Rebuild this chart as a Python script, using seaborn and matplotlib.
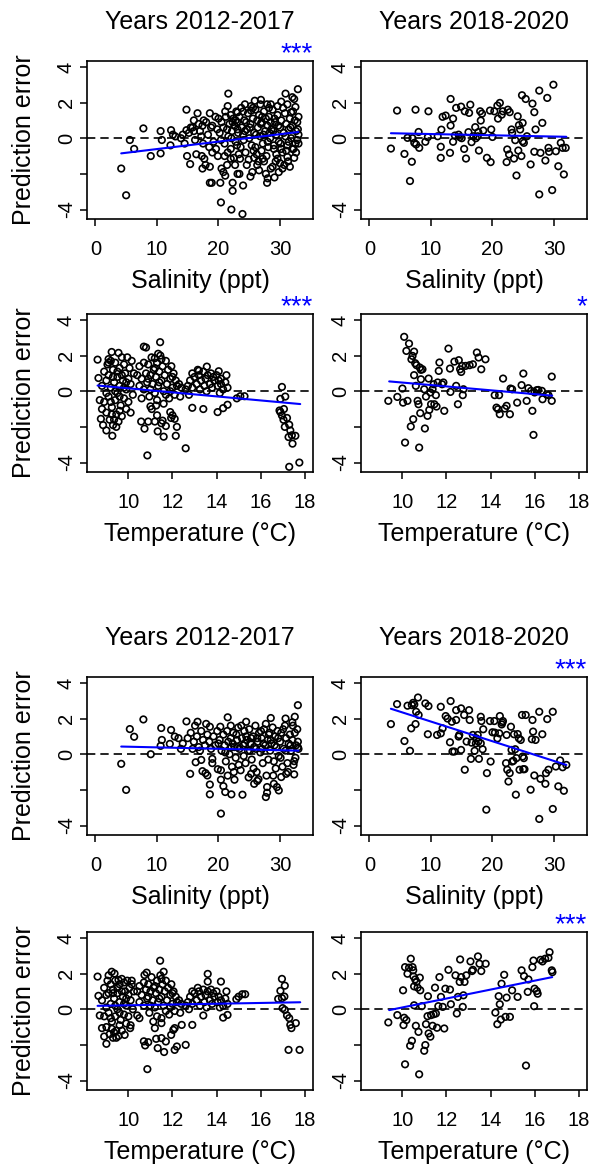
import numpy as np
import seaborn as sns
import matplotlib.pyplot as plt

sns.set_style("white")
plt.rcParams["font.family"] = ["Liberation Sans", "DejaVu Sans"]
plt.rcParams["text.color"] = "black"
plt.rcParams["axes.labelcolor"] = "black"
plt.rcParams["xtick.color"] = "black"
plt.rcParams["ytick.color"] = "black"

# ---- data: (x, prediction error) ----
# model A, 2012-2017, vs salinity
sal_early_a = [
    (4.2, -1.7), (5.0, -3.2), (5.6, -0.1), (6.3, -0.6), (7.8, 0.55), (9.0, -1.0), (10.6, 0.4),
    (10.6, -0.85), (10.8, -0.1), (12.3, 0.45), (12.2, -0.4), (13.0, 0.1), (13.9, 0.0), (12.6, 0.2),
    (14.8, 1.6), (16.6, 1.4), (18.6, 1.4), (17.6, 1.0), (17.4, 0.7), (14.8, 0.45), (14.9, -1.0),
    (15.4, -1.45), (15.5, 0.6), (16.0, 0.4), (16.4, -0.9), (17.3, -1.0), (17.7, -1.15), (17.9, -1.5),
    (18.6, -1.6), (17.4, -1.7), (18.6, -2.5), (18.9, -2.5), (19.0, -0.8), (19.9, -1.0), (20.3, -2.5),
    (20.4, -3.6), (20.5, -1.7), (20.8, -1.9), (21.1, -2.1), (21.4, -1.5), (21.6, 2.5), (21.5, 1.8),
    (22.0, -1.15), (22.1, -4.0), (22.3, -2.95), (22.3, -2.5), (22.7, -1.5), (23.1, -2.0), (23.4, -2.0),
    (24.0, -2.65), (23.9, -4.25), (23.5, -1.15), (23.1, 1.45), (22.8, 1.0), (24.3, 1.9), (25.3, 1.55),
    (25.9, 2.1), (26.9, 2.15), (27.9, 1.9), (28.5, 1.9), (30.2, 2.05), (30.9, 2.5), (32.3, 2.2),
    (32.9, 2.75), (32.5, 1.75), (31.8, 1.45), (25.2, -2.15), (25.5, -1.9), (26.3, -1.5), (27.2, -1.15),
    (27.9, -2.5), (28.0, -2.25), (27.7, -2.0), (28.5, -1.7), (29.1, -2.2), (29.6, -1.15), (29.8, -1.9),
    (30.4, -1.7), (30.7, -1.5), (31.2, -1.05), (32.3, -1.1), (32.0, -0.6), (32.8, -0.1),
    (20.2, 0.3), (20.5, 0.9), (20.8, 0.6), (21.0, -0.3), (21.2, 1.2), (21.4, 0.5), (21.6, 0.1),
    (21.8, 0.8), (22.0, -0.6), (22.2, 0.4), (22.4, 1.1), (22.6, 0.7), (22.8, -0.2), (23.0, 0.9),
    (23.2, 0.3), (23.4, 1.2), (23.6, -0.5), (23.8, 0.6), (24.0, 0.2), (24.2, 1.0), (24.4, -0.8),
    (24.6, 0.5), (24.8, 1.4), (25.0, 0.0), (25.2, 0.8), (25.4, -0.4), (25.6, 1.1), (25.8, 0.3),
    (26.0, 1.6), (26.2, -0.9), (26.4, 0.6), (26.6, 1.3), (26.8, 0.1), (27.0, 0.9), (27.2, -0.3),
    (27.4, 1.5), (27.6, 0.4), (27.8, -1.0), (28.0, 0.7), (28.2, 1.2), (28.4, 0.0), (28.6, 0.5),
    (28.8, 1.6), (29.0, -0.6), (29.2, 0.9), (29.4, 0.2), (29.6, 1.3), (29.8, -0.2), (30.0, 0.6),
    (30.2, 1.0), (30.4, -0.8), (30.6, 0.3), (30.8, 1.4), (31.0, 0.8), (31.2, -0.4), (31.4, 0.5),
    (31.6, 1.1), (31.8, 0.0), (32.0, 0.7), (32.2, -0.6), (32.4, 1.0), (32.6, 0.4), (32.8, 0.9),
    (33.0, 0.2), (20.4, -0.1), (21.1, 1.5), (21.5, -0.8), (22.1, 0.0), (22.5, -1.1), (22.9, 1.5),
    (23.3, -0.9), (23.7, 1.7), (24.1, -0.1), (24.5, 0.9), (24.9, -1.2), (25.3, 1.8), (25.7, -0.7),
    (26.1, 0.2), (26.5, -1.3), (26.9, 0.8), (27.3, 0.2), (27.7, 1.1), (28.1, -0.5), (28.5, 0.9),
    (28.9, 0.4), (29.3, -1.3), (29.7, 0.7), (30.1, -0.3), (30.5, 1.7), (30.9, 0.1), (31.3, -1.3),
    (31.7, 0.6), (32.1, 1.5), (32.5, -0.3), (32.9, 0.5), (26.3, 1.0), (27.1, 1.2), (28.3, 0.3),
    (29.1, 1.1), (24.3, 0.4), (25.1, 0.6), (23.1, 0.5), (22.3, 0.9), (15.2, 0.3), (15.8, 0.6),
    (16.2, -0.1), (16.8, 0.8), (17.0, 0.4), (17.5, -0.3), (18.0, 0.9), (18.3, 0.2), (18.8, 0.6),
    (19.2, -0.2), (19.5, 1.2), (19.8, 0.5), (14.2, 0.2), (14.5, -0.3), (16.0, 1.0), (17.2, 0.1),
    (18.5, -0.5), (19.0, 0.7), (19.6, -0.6), (20.0, 1.1), (24.6, -1.5), (25.8, -1.1), (26.6, -1.8),
    (27.4, -1.3), (28.8, -1.6), (29.4, -0.9), (30.0, -1.4), (31.0, -0.7), (31.6, -1.6), (26.0, -0.5),
    (27.0, -0.7), (28.0, -0.2), (29.0, -0.4), (30.2, -0.6), (31.4, -0.2), (32.6, -0.8), (24.0, 1.5),
    (25.6, 1.7), (26.8, 1.9), (28.2, 1.7), (29.6, 1.8), (31.2, 1.9), (32.0, 2.3), (33.0, 1.2),
    (33.0, -0.3), (23.0, -0.4), (22.0, 1.3), (21.0, -1.0),
]
# model A, 2012-2017, vs temperature
temp_early_a = [
    (8.6, 1.77), (8.64, 0.74), (8.7, -0.5), (8.8, -1.0), (8.75, -1.55), (8.85, -1.9), (9.0, -2.2),
    (9.27, -2.5), (9.24, 2.2), (9.55, 2.15), (9.1, 1.6), (10.7, 2.5), (10.8, 2.45), (11.44, 2.75),
    (11.2, 1.85), (11.35, 2.1), (10.58, -1.7), (10.73, -2.1), (10.86, -3.6), (10.9, -1.7),
    (11.2, -1.7), (11.3, -1.35), (11.33, -2.25), (11.6, -2.55), (11.7, -1.95), (11.5, -1.8),
    (11.55, -1.65), (12.0, -1.35), (12.1, -1.55), (12.2, -2.0), (12.15, -2.5), (12.6, -3.2),
    (11.0, -0.85), (11.06, -1.0), (11.26, -0.8), (11.9, -1.17), (11.94, -1.5), (12.9, -0.93),
    (13.4, -1.0), (14.05, -1.17), (14.3, -0.95), (14.5, -0.76), (13.56, 1.38), (13.2, 1.15),
    (14.1, 1.12), (14.2, 0.7), (14.92, -0.4), (15.08, -0.28), (15.27, -0.28), (16.97, 0.24),
    (16.9, -0.43), (17.12, -0.3), (16.86, -1.08), (16.97, -1.36), (17.06, -1.0), (17.04, -1.6),
    (17.2, -1.5), (17.1, -2.0), (17.3, -1.88), (17.35, -2.2), (17.27, -2.57), (17.42, -2.47),
    (17.58, -2.5), (17.45, -2.94), (17.3, -4.24), (17.76, -4.0), (16.9, -1.17),
    (8.8, 0.3), (8.9, -0.6), (8.9, 1.1), (9.0, 0.6), (9.0, -1.2), (9.05, 1.5), (9.1, -0.3),
    (9.1, 0.9), (9.15, -1.6), (9.2, 1.7), (9.2, 0.2), (9.25, -0.9), (9.3, 1.2), (9.3, -1.9),
    (9.35, 0.5), (9.4, -0.5), (9.4, 1.6), (9.45, -1.3), (9.5, 0.8), (9.5, -0.1), (9.55, -1.7),
    (9.6, 1.3), (9.6, 0.3), (9.65, -0.8), (9.7, 1.9), (9.7, -1.4), (9.75, 0.6), (9.8, -0.4),
    (9.8, 1.5), (9.85, 1.0), (9.9, -1.0), (9.9, 0.1), (9.95, 1.9), (10.0, 0.7), (10.0, -0.6),
    (10.05, 1.3), (10.1, -1.2), (10.1, 0.4), (10.15, 1.7), (10.2, -0.2), (10.25, 1.0), (9.0, -0.1),
    (9.2, -0.6), (9.4, 0.0), (9.6, -0.3), (9.8, 0.2), (9.3, 0.8), (9.5, 1.1), (9.7, 0.9), (9.9, 0.5),
    (9.1, 1.8), (9.45, -2.0), (9.35, -1.6), (9.6, -1.1), (9.25, -1.3),
    (10.4, 0.9), (10.5, 1.4), (10.5, 0.3), (10.6, 0.7), (10.7, 1.6), (10.7, 0.1), (10.8, 1.0),
    (10.85, 0.5), (10.9, 1.5), (10.95, -0.3), (11.0, 0.9), (11.05, 1.9), (11.1, 0.4), (11.15, 1.2),
    (11.2, -0.1), (11.25, 0.8), (11.3, 1.6), (11.35, 0.3), (11.4, 1.1), (11.45, 2.0), (11.5, 0.6),
    (11.55, 1.4), (11.6, 0.0), (11.65, 0.9), (11.7, 1.7), (11.75, 0.4), (11.8, 1.2), (11.85, -0.4),
    (11.9, 0.7), (11.95, 1.4), (12.0, 0.2), (12.05, 1.0), (12.1, -0.2), (12.15, 0.6), (12.2, 0.3),
    (12.3, 0.4), (12.35, -0.3), (12.4, 0.2), (11.0, 0.1), (11.3, -0.5), (11.6, -0.7), (11.9, 0.0),
    (11.2, 1.3), (11.5, 1.8), (10.6, -0.4), (10.9, 0.7), (11.4, 0.5), (11.7, -0.2), (12.0, 0.8),
    (12.6, 0.1), (12.7, 0.3), (12.8, 0.6), (12.9, 0.2), (13.0, 0.8), (13.1, 0.4), (13.2, 0.9),
    (13.25, 0.1), (13.3, 0.6), (13.4, 1.1), (13.45, 0.3), (13.5, 0.7), (13.6, 0.9), (13.7, 0.4),
    (13.75, 1.0), (13.8, 0.2), (13.9, 0.6), (14.0, 0.9), (14.05, 0.3), (14.1, 0.6), (14.2, 0.4),
    (14.3, 0.1), (14.4, 0.5), (14.5, 0.2), (12.75, -0.2), (13.15, 1.2), (13.55, 0.0), (13.85, 0.8),
    (14.15, -0.1), (14.45, 0.9), (12.9, 1.0),
]
# model A, 2018-2020
sal_late_a = [
    (3.5, -0.58), (4.5, 1.55), (5.7, -0.88), (6.2, 0.02), (6.6, -2.4), (6.9, -1.32), (7.0, 0.0),
    (7.3, -0.26), (7.5, 1.6), (7.6, -0.35), (8.0, 0.35), (8.1, -0.54), (9.1, -0.2), (9.5, 0.06),
    (9.6, 1.51), (11.1, 0.11), (11.6, -1.1), (11.7, 0.48), (11.6, -0.48), (11.9, 1.2), (12.4, 1.27),
    (13.1, -0.82), (13.2, 2.2), (13.2, 0.71), (13.6, 1.1), (13.6, -0.2), (13.9, 0.15), (14.1, 1.7),
    (14.5, 0.2), (14.7, 0.06), (14.9, 1.77), (15.0, 0.0), (15.4, -0.6), (15.5, 1.51), (15.7, -1.14),
    (16.1, 0.34), (16.2, 1.42), (16.4, 1.88), (16.6, -0.22), (16.9, 0.11), (17.2, 0.62), (17.3, 0.0),
    (17.6, 0.11), (17.7, 0.34), (17.8, -0.69), (18.0, 1.51), (18.1, 0.99), (18.3, 1.38), (18.5, 0.43),
    (19.1, -1.1), (19.7, -1.34), (19.6, 1.55), (19.8, 0.49), (20.0, 0.07), (20.3, 1.51), (20.8, 1.83),
    (21.2, 1.98), (20.9, 1.1), (21.5, 1.32), (21.7, 1.51), (22.3, -1.34), (22.4, -0.63), (22.5, 1.6),
    (22.7, -0.91), (22.8, 1.46), (23.1, 0.49), (23.2, 0.3), (23.5, -1.14), (23.7, -0.11), (23.9, -2.09),
    (24.1, 1.23), (24.2, -0.69), (24.3, 0.73), (24.5, 0.49), (24.7, -1.0), (24.8, 2.41), (24.9, 0.86),
    (24.9, -0.17), (25.1, -0.26), (25.4, 2.2), (25.6, 0.11), (26.2, -1.47), (26.5, 1.94), (26.8, 1.46),
    (26.8, -0.76), (27.0, 0.49), (27.6, 2.67), (27.6, -3.15), (27.8, -0.82), (28.1, 0.86), (28.6, -1.25),
    (28.9, 2.26), (29.1, -0.54), (29.2, -0.76), (29.7, -2.91), (29.9, 3.0), (30.3, -0.73), (30.7, -1.57),
    (31.1, -0.26), (31.4, -0.54), (31.6, -2.03), (31.9, -0.54),
]
temp_late_a = [
    (9.36, -0.54), (9.77, -0.32), (10.0, 0.15), (10.03, -0.64), (10.08, 3.05), (10.12, -2.88),
    (10.18, 2.26), (10.23, -0.54), (10.3, 2.67), (10.38, -1.98), (10.41, 1.79), (10.46, 1.98),
    (10.49, -1.57), (10.53, 2.22), (10.53, 0.9), (10.58, 1.57), (10.61, 0.3), (10.64, 1.46),
    (10.69, -0.54), (10.73, -0.73), (10.76, -3.16), (10.81, -1.23), (10.79, 1.33), (10.84, 1.2),
    (10.84, 0.67), (10.91, 1.23), (10.99, 0.11), (11.02, -2.09), (11.07, -0.3), (11.14, -1.38),
    (11.19, 0.71), (11.22, -1.05), (11.27, -0.07), (11.3, -0.73), (11.37, 0.11), (11.42, 0.39),
    (11.45, -0.73), (11.52, -0.22), (11.55, -0.86), (11.6, 0.49), (11.65, 1.14), (11.68, 1.61),
    (11.8, 0.39), (11.86, 0.49), (11.9, -1.1), (12.09, 2.39), (12.16, 1.27), (12.18, -0.04),
    (12.36, 1.66), (12.44, 0.3), (12.52, -0.73), (12.56, 1.74), (12.62, 1.23), (12.67, 1.08),
    (12.71, 1.42), (12.74, -0.22), (12.77, 0.11), (12.87, 1.42), (13.05, 1.46), (13.2, 1.51),
    (13.38, 2.17), (13.46, 1.89), (13.58, 1.23), (13.77, 1.79), (14.19, -0.22), (14.27, -0.92),
    (14.34, -1.01), (14.39, -0.22), (14.42, -1.29), (14.57, 0.71), (14.65, -0.97), (14.73, -0.82),
    (14.88, -1.29), (14.91, 0.15), (14.98, 0.11), (15.21, -0.64), (15.41, 0.34), (15.49, 0.99),
    (15.64, -0.54), (15.72, 0.17), (15.84, 0.02), (15.9, -1.1), (15.95, -2.45), (16.0, -0.07),
    (16.1, 0.06), (16.17, 0.07), (16.33, 0.02), (16.36, -0.45), (16.55, -0.17), (16.63, -0.22),
    (16.78, -0.54), (16.78, 0.82),
]
# model B, 2012-2017
sal_early_b = [
    (4.2, -0.54), (5.0, -2.0), (5.6, 1.41), (6.3, 0.98), (7.8, 1.95), (9.0, 0.0), (10.6, 0.47),
    (10.8, 0.8), (10.7, 1.47), (12.1, 0.58), (12.3, 1.36), (12.9, 0.99), (13.9, 0.3), (14.8, 1.84),
    (15.4, -1.1), (16.3, -0.45), (16.6, 1.82), (17.2, -0.32), (17.4, -0.95), (17.9, -1.06),
    (18.2, -1.19), (18.6, -1.7), (18.6, -2.25), (19.0, -0.26), (18.6, 1.54), (20.3, 1.54),
    (19.9, -0.84), (20.4, -1.43), (20.8, -1.79), (20.4, -3.33), (21.1, -2.12), (21.5, 2.07),
    (22.0, 1.6), (22.1, -2.25), (22.6, -1.43), (23.9, -2.27), (24.5, 1.82), (25.3, -1.1),
    (25.8, -1.66), (26.3, -1.5), (27.9, -1.84), (27.7, -2.4), (27.9, -2.16), (28.5, 2.03),
    (29.0, -1.66), (29.5, -1.84), (29.8, -2.03), (30.2, -1.28), (30.9, 2.0), (31.0, -1.1),
    (32.3, -1.13), (32.4, 2.1), (32.9, 2.75), (32.3, -0.39), (32.0, 1.79), (32.9, 0.39),
    (20.2, 0.8), (20.5, 0.2), (20.8, 1.1), (21.0, 0.5), (21.2, -0.4), (21.4, 1.3), (21.6, 0.7),
    (21.8, 0.0), (22.0, 0.9), (22.2, -0.7), (22.4, 1.2), (22.6, 0.4), (22.8, -0.2), (23.0, 0.8),
    (23.2, 1.5), (23.4, 0.3), (23.6, -0.9), (23.8, 0.9), (24.0, 0.5), (24.2, 1.3), (24.4, -0.5),
    (24.6, 0.8), (24.8, 0.2), (25.0, 1.4), (25.2, 0.6), (25.4, -0.3), (25.6, 1.0), (25.8, 0.4),
    (26.0, 1.6), (26.2, -1.0), (26.4, 0.7), (26.6, 1.2), (26.8, 0.1), (27.0, 0.9), (27.2, -0.5),
    (27.4, 1.4), (27.6, 0.5), (27.8, -1.2), (28.0, 0.8), (28.2, 1.1), (28.4, 0.2), (28.6, 0.6),
    (28.8, 1.5), (29.0, -0.4), (29.2, 1.0), (29.4, 0.4), (29.6, 1.3), (29.8, -0.1), (30.0, 0.7),
    (30.2, 1.2), (30.4, -0.7), (30.6, 0.3), (30.8, 1.6), (31.0, 0.9), (31.2, -0.5), (31.4, 0.6),
    (31.6, 1.1), (31.8, 0.2), (32.0, 0.8), (32.2, -0.6), (32.4, 1.2), (32.6, 0.5), (32.8, 1.4),
    (33.0, 0.3), (20.4, -0.9), (21.1, 0.1), (21.5, -1.2), (22.1, 0.4), (22.5, -1.0), (22.9, 1.1),
    (23.3, -0.6), (23.7, 1.6), (24.1, -0.1), (24.5, 1.0), (24.9, -1.3), (25.3, 0.9), (25.7, -0.8),
    (26.1, 0.3), (26.5, -1.4), (26.9, 1.3), (27.3, 0.6), (27.7, 1.7), (28.1, -0.3), (28.5, 0.8),
    (28.9, -1.2), (29.3, -0.8), (29.7, 0.9), (30.1, -0.2), (30.5, 1.4), (30.9, 0.2), (31.3, -1.0),
    (31.7, 0.5), (32.1, 1.6), (32.5, -0.2), (32.9, 0.7), (26.3, 0.9), (27.1, 0.3), (28.3, 1.2),
    (29.1, 0.5), (24.3, 0.6), (25.1, 0.2), (23.1, 0.4), (22.3, 0.6), (15.0, 0.9), (15.5, 1.2),
    (16.0, 0.7), (16.5, 1.0), (16.8, 0.4), (17.2, 1.3), (17.5, 0.8), (17.8, 0.5), (18.2, 1.1),
    (18.5, 0.7), (18.8, 0.3), (19.2, 1.0), (19.5, 0.5), (19.8, 1.3), (14.2, 0.6), (13.5, 0.9),
    (16.2, 1.6), (17.0, 0.2), (19.0, -0.5), (20.0, 0.6), (18.0, 1.7), (15.8, 0.3),
]
temp_early_b = [
    (8.6, 1.83), (8.64, 0.75), (8.7, -0.35), (8.8, -1.06), (8.9, -1.53), (9.0, -1.94), (9.24, 2.1),
    (9.37, 2.0), (9.55, 1.64), (9.83, -1.44), (10.08, -1.06), (10.15, 1.6), (10.4, -0.35),
    (10.5, -0.5), (10.7, -1.8), (10.76, -2.03), (10.86, -3.36), (10.9, -1.85), (10.73, 1.92),
    (10.83, 2.05), (11.13, -0.69), (11.2, -1.06), (11.26, -1.66), (11.33, -2.18), (11.44, 2.72),
    (11.6, 2.1), (11.5, -0.78), (11.5, -0.5), (11.5, -1.62), (11.62, -2.4), (11.7, -1.81),
    (11.94, -1.44), (12.04, -1.16), (12.1, -1.06), (12.2, -2.09), (12.1, -2.28), (12.42, -0.88),
    (12.6, -2.0), (12.9, -0.88), (13.4, -0.35), (13.6, 1.98), (13.6, 1.55), (14.2, 1.55),
    (14.3, -0.47), (14.5, -0.32), (14.9, 0.56), (15.0, 0.7), (15.17, 0.84), (15.3, 0.84),
    (16.97, 1.7), (17.1, 1.32), (16.9, 1.03), (16.97, 0.62), (16.8, 0.58), (17.08, 0.71),
    (17.0, 0.06), (17.1, -0.04), (17.2, -0.35), (17.3, -0.5), (17.35, -0.88), (17.4, -1.06),
    (17.6, -0.78), (17.27, -2.28), (17.77, -2.28),
    (8.8, 0.5), (8.9, -0.4), (8.9, 1.2), (9.0, 0.8), (9.0, -1.0), (9.05, 1.6), (9.1, -0.2),
    (9.1, 0.9), (9.15, -1.4), (9.2, 1.4), (9.2, 0.3), (9.25, -0.7), (9.3, 1.1), (9.3, -1.6),
    (9.35, 0.6), (9.4, -0.4), (9.4, 1.6), (9.45, -1.2), (9.5, 0.9), (9.5, 0.0), (9.55, -1.5),
    (9.6, 1.4), (9.6, 0.4), (9.65, -0.6), (9.7, 1.7), (9.7, -1.2), (9.75, 0.7), (9.8, -0.3),
    (9.8, 1.5), (9.85, 1.0), (9.9, -0.8), (9.9, 0.2), (9.95, 1.6), (10.0, 0.8), (10.0, -0.4),
    (10.05, 1.2), (10.1, -0.9), (10.1, 0.5), (10.15, 1.4), (10.2, 0.0), (10.25, 1.0), (9.0, 0.1),
    (9.2, -0.5), (9.4, 0.2), (9.6, -0.2), (9.8, 0.3), (9.3, 0.9), (9.5, 1.2), (9.7, 1.0), (9.9, 0.6),
    (9.1, 1.9), (9.45, -1.6), (9.35, -1.3), (9.6, -0.9), (9.25, -1.1),
    (10.4, 1.0), (10.5, 1.3), (10.5, 0.4), (10.6, 0.8), (10.7, 1.5), (10.7, 0.2), (10.8, 1.1),
    (10.85, 0.6), (10.9, 1.4), (10.95, -0.2), (11.0, 1.0), (11.05, 1.8), (11.1, 0.5), (11.15, 1.2),
    (11.2, 0.1), (11.25, 0.9), (11.3, 1.6), (11.35, 0.4), (11.4, 1.1), (11.45, 1.9), (11.5, 0.7),
    (11.55, 1.4), (11.6, 0.2), (11.65, 1.0), (11.7, 1.6), (11.75, 0.5), (11.8, 1.2), (11.85, -0.3),
    (11.9, 0.8), (11.95, 1.4), (12.0, 0.3), (12.05, 1.0), (12.1, -0.1), (12.15, 0.7), (12.2, 0.4),
    (12.3, 0.5), (12.35, -0.2), (12.4, 0.3), (11.0, 0.2), (11.3, -0.4), (11.9, 0.1), (11.2, 1.3),
    (11.5, 1.7), (10.9, 0.7), (11.4, 0.6), (11.7, -0.1), (12.0, 0.9),
    (12.6, 0.2), (12.7, 0.4), (12.8, 0.7), (12.9, 0.3), (13.0, 0.9), (13.1, 0.5), (13.2, 1.0),
    (13.25, 0.2), (13.3, 0.7), (13.4, 1.1), (13.45, 0.4), (13.5, 0.8), (13.6, 1.0), (13.7, 0.5),
    (13.75, 1.1), (13.8, 0.3), (13.9, 0.7), (14.0, 1.0), (14.05, 0.4), (14.1, 0.7), (14.2, 0.5),
    (14.3, 0.2), (14.4, 0.6), (14.5, 0.3), (12.75, 0.0), (13.15, 1.2), (13.55, 0.1), (13.85, 0.9),
    (14.15, 0.1), (14.45, 1.0), (12.9, 1.0),
]
# model B, 2018-2020
sal_late_b = [
    (3.5, 1.69), (4.5, 2.81), (5.7, 0.74), (6.2, 2.72), (6.6, 0.19), (6.8, 1.45), (6.9, 2.75),
    (7.1, 2.88), (7.3, 2.79), (7.5, 1.69), (7.6, 2.38), (7.9, 3.18), (8.0, 2.2), (9.1, 2.85),
    (9.5, 1.12), (9.6, 2.7), (11.0, 1.08), (11.6, 2.66), (11.6, 1.17), (11.9, 1.45), (12.4, 2.14),
    (12.7, 2.0), (13.1, 0.67), (13.2, 2.98), (13.4, 1.82), (13.5, 0.15), (13.8, 0.15), (14.1, 2.47),
    (14.1, 1.92), (14.5, 0.99), (14.6, 1.08), (14.9, 2.57), (14.9, 0.24), (15.4, 2.2), (15.5, -0.87),
    (15.8, 0.71), (16.2, 2.47), (16.3, 1.92), (16.5, -0.26), (16.6, 0.65), (16.8, 1.08), (17.1, 0.19),
    (17.3, 0.61), (17.4, 0.89), (17.6, 1.08), (17.7, 0.71), (17.8, -0.26), (18.1, 0.61), (18.1, 2.1),
    (18.2, 1.86), (18.4, 0.28), (18.5, 1.4), (19.1, -1.06), (19.0, -3.11), (19.6, 1.86), (19.7, -0.41),
    (20.0, 1.23), (20.3, 1.86), (20.4, 1.21), (20.8, 0.89), (21.1, 1.17), (21.2, 2.14), (21.5, 1.67),
    (21.6, 1.77), (21.7, 1.86), (22.2, -0.5), (22.3, 1.08), (22.4, -0.87), (22.6, -1.53),
    (22.8, -1.06), (23.0, 1.54), (23.1, 0.24), (23.2, -0.41), (23.4, -0.37), (23.5, 1.12),
    (23.7, 0.28), (23.8, -2.27), (23.9, -0.22), (24.1, 1.13), (24.3, 0.89), (24.4, -0.87),
    (24.6, 0.8), (24.8, 2.2), (24.9, -0.13), (25.0, -0.84), (25.1, -0.22), (25.2, -0.84),
    (25.4, 2.2), (26.2, -1.99), (26.4, 0.84), (26.5, 1.92), (26.6, 1.27), (26.8, -1.19), (27.0, 0.8),
    (27.6, 2.38), (27.6, -3.63), (27.8, -1.38), (28.1, 1.12), (28.6, -1.66), (28.7, -1.06),
    (28.9, 1.97), (29.1, -0.87), (29.8, 2.38), (29.8, -3.07), (30.3, -0.69), (30.7, -1.8),
    (31.0, -0.35), (31.4, -0.73), (31.6, -2.05), (32.0, -0.6),
]
temp_late_b = [
    (9.36, -0.74), (9.77, -0.33), (10.03, 1.06), (10.05, -0.89), (10.08, -0.48), (10.12, -3.09),
    (10.12, 2.36), (10.18, -0.61), (10.23, 1.99), (10.3, 2.33), (10.35, -2.05), (10.38, 2.83),
    (10.43, -1.77), (10.46, 2.36), (10.49, 2.18), (10.5, 1.84), (10.53, 0.22), (10.53, 1.28),
    (10.58, 1.67), (10.61, -0.93), (10.64, 1.53), (10.69, 1.21), (10.73, -1.27), (10.76, -3.65),
    (10.79, 1.77), (10.81, 1.06), (10.88, 0.17), (10.99, -2.33), (11.04, -2.01), (11.07, -0.84),
    (11.14, -0.39), (11.16, 0.73), (11.19, -1.36), (11.27, -1.54), (11.3, -0.33), (11.37, -0.93),
    (11.42, -0.28), (11.48, 1.21), (11.52, -0.24), (11.57, -1.04), (11.63, 0.17), (11.68, 1.8),
    (11.75, 0.69), (11.83, 0.13), (11.9, -1.08), (11.95, 1.15), (12.09, 2.21), (12.16, 1.1),
    (12.2, 0.28), (12.41, 1.9), (12.47, -0.24), (12.52, 0.69), (12.6, 1.53), (12.62, 2.79),
    (12.67, 1.8), (12.74, 0.13), (12.77, 0.78), (12.82, 1.53), (12.9, 1.9), (13.09, 2.68),
    (13.16, 2.14), (13.2, 2.21), (13.43, 2.96), (13.5, 2.55), (13.58, 2.14), (13.78, 2.55),
    (14.22, -0.19), (14.31, -0.84), (14.37, 0.73), (14.42, 0.28), (14.47, -0.58), (14.5, 1.43),
    (14.62, 1.93), (14.68, -0.43), (14.73, 0.65), (14.88, -0.43), (14.98, 1.06), (15.23, 0.69),
    (15.41, 2.18), (15.52, 1.86), (15.61, -3.16), (15.69, 0.97), (15.72, 1.67), (15.9, 2.36),
    (15.95, 2.73), (15.98, 0.17), (16.0, 1.15), (16.1, 1.02), (16.14, 0.87), (16.27, 2.77),
    (16.36, 2.68), (16.48, 2.83), (16.63, 2.88), (16.68, 3.2), (16.78, 2.18), (16.81, 2.08),
]

# fitted lines (end points)
fit_sal_early_a = [(4.2, -0.85), (33.0, 0.35)]
fit_temp_early_a = [(8.6, 0.32), (17.8, -0.72)]
fit_sal_late_a = [(3.5, 0.28), (32.0, 0.08)]
fit_temp_late_a = [(9.4, 0.55), (16.8, -0.25)]
fit_sal_early_b = [(4.2, 0.43), (33.0, 0.2)]
fit_temp_early_b = [(8.6, 0.19), (17.8, 0.39)]
fit_sal_late_b = [(3.5, 2.55), (32.0, -0.6)]
fit_temp_late_b = [(9.4, -0.05), (16.8, 1.8)]

titles = ["Years 2012-2017", "Years 2018-2020"]
stars = {"sal_early_a": "***", "temp_early_a": "***", "temp_late_a": "*",
         "sal_late_b": "***", "temp_late_b": "***"}

SAL_LIM = (-1.36, 35.36)
TEMP_LIM = (8.12, 18.38)
Y_LIM = (-4.53, 4.33)

fig = plt.figure(figsize=(5.9, 11.64), dpi=100)

W, H = 590, 1164
col_left = [87, 361]
row_top = [61, 314, 677, 932]
box_w, box_h = 226, 158

panels = [
    (0, 0, sal_early_a, fit_sal_early_a, "sal", "sal_early_a"),
    (0, 1, sal_late_a, fit_sal_late_a, "sal", "sal_late_a"),
    (1, 0, temp_early_a, fit_temp_early_a, "temp", "temp_early_a"),
    (1, 1, temp_late_a, fit_temp_late_a, "temp", "temp_late_a"),
    (2, 0, sal_early_b, fit_sal_early_b, "sal", "sal_early_b"),
    (2, 1, sal_late_b, fit_sal_late_b, "sal", "sal_late_b"),
    (3, 0, temp_early_b, fit_temp_early_b, "temp", "temp_early_b"),
    (3, 1, temp_late_b, fit_temp_late_b, "temp", "temp_late_b"),
]

for row, col, pts, fit, kind, key in panels:
    rect = [col_left[col] / W, 1 - (row_top[row] + box_h) / H, box_w / W, box_h / H]
    ax = fig.add_axes(rect)
    pts = np.array(pts)
    fit = np.array(fit)

    ax.axhline(0, color="black", lw=1.2, ls=(0, (5, 3)), zorder=1)
    sns.scatterplot(x=pts[:, 0], y=pts[:, 1], ax=ax, marker="o", s=22,
                    facecolor="none", edgecolor="black", linewidth=1.2, zorder=2)
    sns.lineplot(x=fit[:, 0], y=fit[:, 1], ax=ax, color="blue", lw=1.5, zorder=3)

    if kind == "sal":
        ax.set_xlim(*SAL_LIM)
        ax.set_xticks([0, 10, 20, 30])
        ax.set_xlabel("Salinity (ppt)", fontsize=18, labelpad=7)
    else:
        ax.set_xlim(*TEMP_LIM)
        ax.set_xticks([10, 12, 14, 16, 18])
        ax.set_xlabel("Temperature (°C)", fontsize=18, labelpad=7)
    ax.set_ylim(*Y_LIM)
    ax.set_yticks([4, 2, 0, -2, -4])
    ax.set_yticklabels(["4", "2", "0", "", "-4"], rotation=90, va="center")

    ax.tick_params(axis="both", which="both", direction="out", length=5, width=1.1,
                   labelsize=14.5, bottom=True, left=True, color="black")
    ax.tick_params(axis="x", pad=10)
    ax.tick_params(axis="y", pad=3)
    for sp in ax.spines.values():
        sp.set_visible(True)
        sp.set_color("black")
        sp.set_linewidth(1.2)

    if col == 0:
        ax.set_ylabel("Prediction error", fontsize=18, labelpad=15)
    else:
        ax.set_ylabel("")
    if row in (0, 2):
        ax.set_title(titles[col], fontsize=18, pad=23)
    if key in stars:
        ax.text(1.0, 1.0, stars[key], transform=ax.transAxes, ha="right", va="baseline",
                color="blue", fontsize=20)

fig.savefig("out.png", dpi=100)
